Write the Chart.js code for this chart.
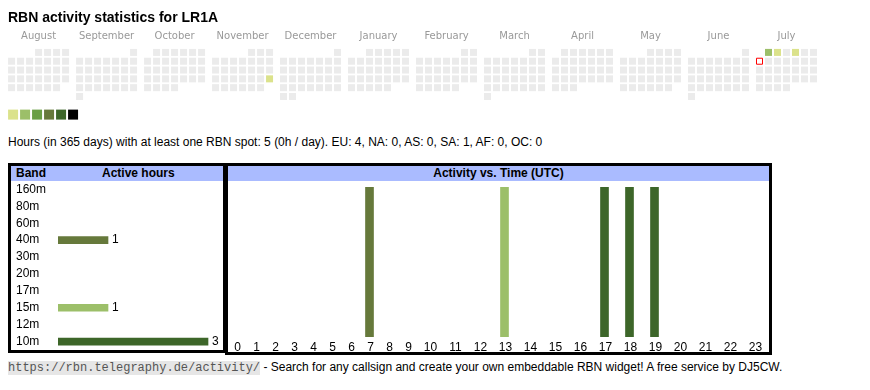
<!DOCTYPE html>
<html>
<head>
<meta charset="utf-8">
<script src="https://cdn.jsdelivr.net/npm/chart.js@4/dist/chart.umd.min.js"></script>
<style>
  html, body { margin: 0; padding: 0; background: #fff; }
  body { width: 870px; height: 390px; overflow: hidden; position: relative; font-family: "Liberation Sans", Arial, sans-serif; color: #000; }
  .abs, canvas { position: absolute; }
  #title { left: 8px; top: 9px; font-weight: bold; font-size: 14px; line-height: 16px; white-space: nowrap; }
  #summary { left: 8px; top: 135px; font-size: 12px; line-height: 14px; white-space: nowrap; }
  .box { border: 3px solid #000; box-sizing: border-box; }
  #boxL { left: 8px; top: 163px; width: 218px; height: 190px; }
  #boxR { left: 225px; top: 163px; width: 547px; height: 192px; }
  .hdr { background: #aabbff; height: 15px; font-weight: bold; font-size: 12px; line-height: 15px; white-space: nowrap; }
  .hdr span { position: absolute; top: 0; }
  #footer { left: 8px; top: 360px; font-size: 12px; line-height: 14px; white-space: nowrap; }
  #footer .code { font-family: "Liberation Mono", "Courier New", monospace; color: #555; background: #e6e6e6; }
</style>
</head>
<body>
<canvas id="cal" width="870" height="130" style="left:0;top:0"></canvas>
<div id="title" class="abs">RBN activity statistics for LR1A</div>
<div id="summary" class="abs">Hours (in 365 days) with at least one RBN spot: 5 (0h / day). EU: 4, NA: 0, AS: 0, SA: 1, AF: 0, OC: 0</div>
<div id="boxL" class="abs box"></div>
<div id="boxR" class="abs box"></div>
<div class="abs hdr" style="left:11px;top:166px;width:212px"><span style="left:5px">Band</span><span style="left:91px">Active hours</span></div>
<div class="abs hdr" style="left:228px;top:166px;width:541px;text-align:center">Activity vs. Time (UTC)</div>
<canvas id="bands" width="212" height="169" style="left:11px;top:181px"></canvas>
<canvas id="hours" width="540" height="172" style="left:228px;top:181px"></canvas>
<div id="footer" class="abs"><span class="code">https://rbn.telegraphy.de/activity/</span> - Search for any callsign and create your own embeddable RBN widget! A free service by DJ5CW.</div>

<script>
// ================= DATA =================
const MONTH_NAMES = ['August','September','October','November','December','January','February','March','April','May','June','July'];
const FIRST_YEAR = 2024;
const FIRST_MONTH = 7;              // August (0-based)
const ACTIVE_DAYS = ['2024-11-24', '2025-07-01', '2025-07-02', '2025-07-04'];
const ACTIVE_DAY_HOURS = [1, 2, 1, 1];
const TODAY = '2025-07-07';
const LEVEL_COLORS = ['#dbe28b', '#9cbf69', '#6a9f46', '#66793b', '#3d6629', '#000000'];

const BANDS = ['160m', '80m', '60m', '40m', '30m', '20m', '17m', '15m', '12m', '10m'];
const BAND_HOURS = [0, 0, 0, 1, 0, 0, 0, 1, 0, 3];
const BAND_COLORS = ['#000000', '#000000', '#000000', '#66793b', '#000000', '#000000', '#000000', '#9cbf69', '#000000', '#3d6629'];

const HOUR_LABELS = ['0','1','2','3','4','5','6','7','8','9','10','11','12','13','14','15','16','17','18','19','20','21','22','23'];
const HOURS_40M = [7];
const HOURS_15M = [13];
const HOURS_10M = [17, 18, 19];

// ================= COMMON =================
Chart.defaults.font.family = '"Liberation Sans", Arial, sans-serif';
Chart.defaults.color = '#000';
const baseOpts = { responsive: false, animation: false, events: [], devicePixelRatio: 1,
  plugins: { legend: { display: false }, tooltip: { enabled: false } } };

// ================= CALENDAR =================
const CELL = 9;                 // px per cell pitch
const MONTH_STEP = 68 / CELL;   // month block pitch in cell units
const CELL_R = 3.5 * Math.SQRT2;
const TODAY_R = 3 * Math.SQRT2;
const LEGEND_R = 5 * Math.SQRT2;
const LEGEND_PITCH = 12 / CELL;
const LEGEND_X0 = 6 / CELL - 0.5;
const LEGEND_ROW = 68 / CELL - 0.5;

const days = [];
for (let m = 0; m < 12; m++) {
  const y = FIRST_YEAR + Math.floor((FIRST_MONTH + m) / 12);
  const mo = (FIRST_MONTH + m) % 12;
  const first = (new Date(Date.UTC(y, mo, 1)).getUTCDay() + 6) % 7;
  const n = new Date(Date.UTC(y, mo + 1, 0)).getUTCDate();
  for (let d = 1; d <= n; d++) {
    const idx = first + d - 1;
    const iso = y + '-' + String(mo + 1).padStart(2, '0') + '-' + String(d).padStart(2, '0');
    days.push({ x: m * MONTH_STEP + (idx % 7), y: Math.floor(idx / 7), iso: iso });
  }
}
const dayFill = days.map(p => {
  if (p.iso === TODAY) return '#ffffff';
  const k = ACTIVE_DAYS.indexOf(p.iso);
  return k >= 0 ? LEVEL_COLORS[ACTIVE_DAY_HOURS[k] - 1] : '#ebebeb';
});
const dayBorderW = days.map(p => p.iso === TODAY ? 1 : 0);
const dayRadius = days.map(p => p.iso === TODAY ? TODAY_R : CELL_R);

new Chart(document.getElementById('cal'), {
  type: 'scatter',
  data: { datasets: [
    { data: days, pointStyle: 'rect', pointRadius: dayRadius, pointHoverRadius: dayRadius,
      pointBackgroundColor: dayFill, pointBorderColor: '#ff0000', pointBorderWidth: dayBorderW, clip: false },
    { data: LEVEL_COLORS.map((c, i) => ({ x: LEGEND_X0 + i * LEGEND_PITCH, y: LEGEND_ROW })),
      pointStyle: 'rect', pointRadius: LEGEND_R, pointHoverRadius: LEGEND_R,
      pointBackgroundColor: LEVEL_COLORS, pointBorderWidth: 0, clip: false }
  ] },
  options: Object.assign({}, baseOpts, {
    layout: { padding: { left: 7, right: 52, top: 28, bottom: 5.5 } },
    scales: {
      x: { type: 'linear', position: 'top', min: -0.5, max: 11 * MONTH_STEP + 6.5,
        grid: { display: false, drawTicks: false }, border: { display: false },
        afterBuildTicks: s => { s.ticks = MONTH_NAMES.map((n, i) => ({ value: i * MONTH_STEP + 3 })); },
        afterFit: s => { s.height = 20; },
        ticks: { autoSkip: false, maxRotation: 0, padding: 6, color: '#999',
          font: { family: '"DejaVu Sans", sans-serif', size: 10 },
          callback: (v, i) => MONTH_NAMES[i] } },
      y: { type: 'linear', display: false, reverse: true, min: -0.5, max: 8 }
    }
  })
});

// ================= BAND BARS =================
const PX_PER_HOUR = 50;
const valueLabels = {
  id: 'valueLabels',
  afterDatasetsDraw(chart) {
    const ctx = chart.ctx;
    ctx.save();
    ctx.font = '12px "Liberation Sans", Arial, sans-serif';
    ctx.fillStyle = '#000';
    ctx.textAlign = 'left';
    ctx.textBaseline = 'middle';
    chart.getDatasetMeta(0).data.forEach((bar, i) => {
      const v = BAND_HOURS[i];
      if (v > 0) ctx.fillText(String(v), bar.x + 4, bar.y);
    });
    ctx.restore();
  }
};
new Chart(document.getElementById('bands'), {
  type: 'bar',
  data: { labels: BANDS, datasets: [{ data: BAND_HOURS.map(v => v > 0 ? v : null), backgroundColor: BAND_COLORS, barThickness: 7, borderWidth: 0 }] },
  options: Object.assign({}, baseOpts, {
    indexAxis: 'y',
    layout: { padding: { left: 5, right: 0, top: 0, bottom: 0 } },
    scales: {
      x: { type: 'linear', display: false, min: 0, max: (212 - 5 - 42) / PX_PER_HOUR },
      y: { type: 'category', grid: { display: false, drawTicks: false }, border: { display: false },
        afterFit: s => { s.width = 42; s.paddingTop = 0; s.paddingBottom = 0; },
        ticks: { autoSkip: false, crossAlign: 'far', padding: 0, color: '#000', font: { size: 12 } } }
    }
  }),
  plugins: [valueLabels]
});

// ================= HOURS BARS =================
const labelWidth = HOUR_LABELS.map(s => 6 * s.length + 13);
const hourCenter = [];
let acc = 0;
labelWidth.forEach(w => { hourCenter.push(acc + w / 2); acc += w; });
const HOUR_SPAN = acc;
const mk = (hrs) => hrs.map(h => ({ x: hourCenter[h] - 1, y: 1 }));

new Chart(document.getElementById('hours'), {
  type: 'bar',
  data: { datasets: [
    { label: '40m', data: mk(HOURS_40M), backgroundColor: BAND_COLORS[3] },
    { label: '15m', data: mk(HOURS_15M), backgroundColor: BAND_COLORS[7] },
    { label: '10m', data: mk(HOURS_10M), backgroundColor: BAND_COLORS[9] }
  ] },
  options: Object.assign({}, baseOpts, {
    datasets: { bar: { barThickness: 8, grouped: false, borderWidth: 0 } },
    layout: { padding: { left: 0, right: 0, top: 6, bottom: 0 } },
    scales: {
      x: { type: 'linear', min: 0, max: HOUR_SPAN, offset: false,
        grid: { display: false, drawTicks: false }, border: { display: false },
        afterBuildTicks: s => { s.ticks = hourCenter.map(v => ({ value: v })); },
        afterFit: s => { s.height = 16; },
        ticks: { autoSkip: false, maxRotation: 0, padding: 3, color: '#000', font: { size: 12 },
          callback: (v, i) => HOUR_LABELS[i] } },
      y: { type: 'linear', display: false, min: 0, max: 1 }
    }
  })
});
</script>
</body>
</html>
